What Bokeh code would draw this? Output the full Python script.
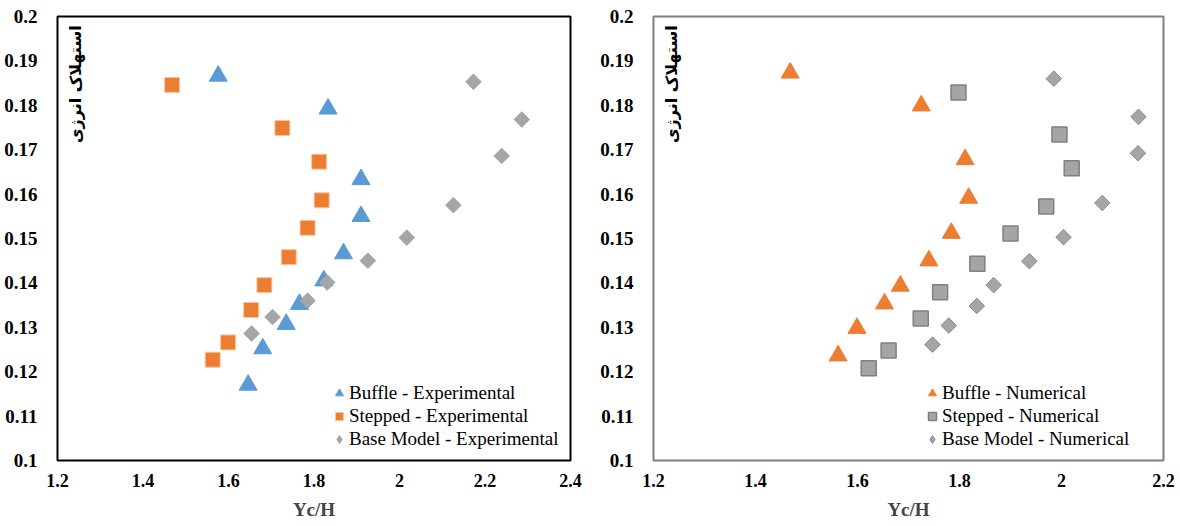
import math
from bokeh.plotting import figure
from bokeh.layouts import row
from bokeh.models import Range1d, FixedTicker, Label, Legend, LegendItem
from bokeh.embed import file_html
from bokeh.resources import INLINE

# ---- data: left panel (Experimental) ----
buffle_exp_x = [1.576, 1.833, 1.910, 1.910, 1.869, 1.823, 1.766, 1.735, 1.680, 1.646]
buffle_exp_y = [0.1866, 0.1792, 0.1633, 0.1550, 0.1466, 0.1405, 0.1352, 0.1307, 0.1252, 0.1170]
stepped_exp_x = [1.468, 1.726, 1.812, 1.818, 1.785, 1.741, 1.684, 1.653, 1.599, 1.563]
stepped_exp_y = [0.1846, 0.1749, 0.1673, 0.1586, 0.1524, 0.1458, 0.1395, 0.1339, 0.1266, 0.1227]
base_exp_x = [2.173, 2.286, 2.239, 2.126, 2.017, 1.926, 1.831, 1.785, 1.703, 1.654]
base_exp_y = [0.1853, 0.1768, 0.1686, 0.1575, 0.1502, 0.1450, 0.1401, 0.1360, 0.1323, 0.1286]

# ---- data: right panel (Numerical) ----
buffle_num_x = [1.468, 1.725, 1.811, 1.818, 1.784, 1.740, 1.684, 1.653, 1.599, 1.562]
buffle_num_y = [0.1873, 0.1799, 0.1678, 0.1591, 0.1512, 0.1450, 0.1393, 0.1353, 0.1298, 0.1236]
stepped_num_x = [1.798, 1.996, 2.020, 1.970, 1.900, 1.835, 1.762, 1.724, 1.661, 1.622]
stepped_num_y = [0.1829, 0.1734, 0.1658, 0.1572, 0.1511, 0.1443, 0.1379, 0.1320, 0.1248, 0.1208]
base_num_x = [1.985, 2.151, 2.150, 2.080, 2.004, 1.937, 1.867, 1.834, 1.779, 1.747]
base_num_y = [0.1860, 0.1774, 0.1692, 0.1580, 0.1503, 0.1449, 0.1395, 0.1348, 0.1304, 0.1261]

y_ticks = [0.1, 0.11, 0.12, 0.13, 0.14, 0.15, 0.16, 0.17, 0.18, 0.19, 0.2]
y_tick_labels = ["0.1", "0.11", "0.12", "0.13", "0.14", "0.15", "0.16", "0.17", "0.18", "0.19", "0.2"]
x_ticks_left = [1.2, 1.4, 1.6, 1.8, 2.0, 2.2, 2.4]
x_ticks_right = [1.2, 1.4, 1.6, 1.8, 2.0, 2.2]
x_tick_labels = {1.2: "1.2", 1.4: "1.4", 1.6: "1.6", 1.8: "1.8", 2.0: "2", 2.2: "2.2", 2.4: "2.4"}

y_title = "استهلاک انرژی"
x_title = "Yc/H"

BLUE = "#5B9BD5"
ORANGE = "#ED7D31"
GRAY = "#A5A5A5"
SERIF = "Liberation Serif"


def make_fig(xmax, xticks, border_left, border_right, frame_w, frame_color):
    p = figure(frame_width=frame_w, frame_height=444, output_backend="svg",
               toolbar_location=None,
               x_range=Range1d(1.2, xmax), y_range=Range1d(0.1, 0.2),
               min_border_left=border_left, min_border_right=border_right,
               min_border_top=16, min_border_bottom=8)
    p.grid.visible = False
    p.outline_line_color = frame_color
    p.outline_line_width = 2
    p.background_fill_color = "white"
    p.border_fill_color = "white"
    p.axis.axis_line_color = None
    p.axis.major_tick_line_color = None
    p.axis.minor_tick_line_color = None
    p.axis.major_label_text_font = SERIF
    p.axis.major_label_text_font_style = "bold"
    p.axis.major_label_text_color = "black"
    p.xaxis.major_label_text_font_size = "18px"
    p.yaxis.major_label_text_font_size = "19px"
    p.xaxis.ticker = FixedTicker(ticks=xticks)
    p.xaxis.major_label_overrides = {t: x_tick_labels[t] for t in xticks}
    p.xaxis.major_label_standoff = 7
    p.yaxis.ticker = FixedTicker(ticks=y_ticks)
    p.yaxis.major_label_overrides = dict(zip(y_ticks, y_tick_labels))
    p.yaxis.major_label_standoff = 14
    p.xaxis.axis_label = x_title
    p.xaxis.axis_label_text_font = SERIF
    p.xaxis.axis_label_text_font_style = "bold"
    p.xaxis.axis_label_text_font_size = "19px"
    p.xaxis.axis_label_standoff = 9
    p.add_layout(Label(x=1.2 + 18 / frame_w * (xmax - 1.2), y=0.198, text=y_title,
                       angle=math.pi / 2,
                       text_align="right", text_baseline="middle",
                       text_font="DejaVu Sans", text_font_size="16px",
                       text_font_style="bold", text_color="black"))
    return p


def add_legend(p, items, loc):
    leg = Legend(items=items, location=loc, orientation="vertical",
                 background_fill_alpha=0, border_line_alpha=0,
                 label_text_font=SERIF, label_text_font_size="19px",
                 label_text_color="black", glyph_width=20, glyph_height=22,
                 label_standoff=0, spacing=1, padding=0, margin=0,
                 label_height=22)
    p.add_layout(leg)


# ---- left panel ----
p1 = make_fig(2.4, x_ticks_left, 57, 20, 513, "black")
r1 = p1.scatter(buffle_exp_x, buffle_exp_y, marker="triangle", size=18,
                fill_color=BLUE, line_color=BLUE)
r2 = p1.scatter(stepped_exp_x, stepped_exp_y, marker="square", size=15,
                fill_color=ORANGE, line_color="#F8C7A6", line_width=1)
# diamond drawn under the rotated squares: only its legend glyph is seen
k3 = p1.scatter(base_exp_x, base_exp_y, marker="diamond", size=14,
                fill_color=GRAY, line_color=GRAY)
r3 = p1.scatter(base_exp_x, base_exp_y, marker="square", size=11, angle=math.pi / 4,
                fill_color=GRAY, line_color=GRAY)
add_legend(p1, [LegendItem(label="Buffle - Experimental", renderers=[r1]),
                LegendItem(label="Stepped - Experimental", renderers=[r2]),
                LegendItem(label="Base Model - Experimental", renderers=[k3])],
           (272, 10))

# ---- right panel ----
p2 = make_fig(2.2, x_ticks_right, 63, 14, 510, "#7F7F7F")
s1 = p2.scatter(buffle_num_x, buffle_num_y, marker="triangle", size=18,
                fill_color=ORANGE, line_color=ORANGE)
s2 = p2.scatter(stepped_num_x, stepped_num_y, marker="square", size=15,
                fill_color=GRAY, line_color="#808080", line_width=1.5)
k6 = p2.scatter(base_num_x, base_num_y, marker="diamond", size=14,
                fill_color=GRAY, line_color="#8C8C8C", line_width=1)
s3 = p2.scatter(base_num_x, base_num_y, marker="square", size=11, angle=math.pi / 4,
                fill_color=GRAY, line_color="#8C8C8C", line_width=1)
add_legend(p2, [LegendItem(label="Buffle - Numerical", renderers=[s1]),
                LegendItem(label="Stepped - Numerical", renderers=[s2]),
                LegendItem(label="Base Model - Numerical", renderers=[k6])],
           (269, 10))

layout = row(p1, p2)
open("out.html", "w").write(file_html(layout, INLINE))
